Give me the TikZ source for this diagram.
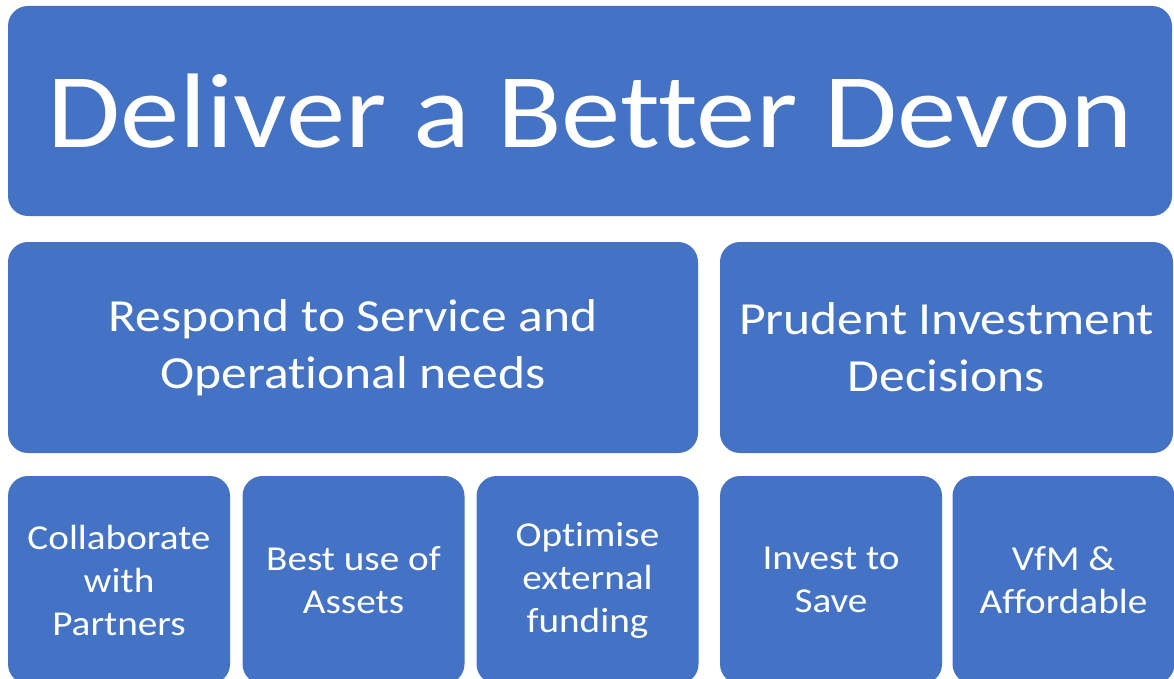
\documentclass[tikz,border=0pt]{standalone}
\usepackage{fontspec}
\setmainfont{Carlito}[FakeStretch = 1.12, Ligatures = NoCommon]
\definecolor{devonblue}{HTML}{4472C4}

\begin{document}
\begin{tikzpicture}[x = 1pt, y = -1pt,
box/.style = {fill = devonblue, text = white, rounded corners = 20pt, inner sep = 0pt, align = center},
big/.style = {box, minimum width = 1164pt, minimum height = 210pt, font = \fontsize{106}{120}\selectfont},
mid/.style = {box, minimum height = 211pt, font = \fontsize{46}{57}\selectfont},
small/.style = {box, minimum width = 222pt, minimum height = 208pt, font = \fontsize{35}{43}\selectfont}
]
\useasboundingbox (0,0) rectangle (1174,679);

% Top level
\node[big] (devon) at (590,111) {Deliver a Better Devon};

% Second level
\node[mid, minimum width = 690pt] (respond) at (353,347.5) {Respond to Service and\\Operational needs};
\node[mid, minimum width = 453pt] (prudent) at (946.5,347.5) {Prudent Investment\\Decisions};

% Third level
\node[small] (collab) at (119,580) {Collaborate\\with\\Partners};
\node[small] (assets) at (353.5,580) {Best use of\\Assets};
\node[small] (funding) at (587.5,580) {Optimise\\external\\funding};
\node[small] (invest) at (831,580) {Invest to\\Save};
\node[small] (vfm) at (1063.5,580) {VfM \&\\Affordable};
\end{tikzpicture}
\end{document}
